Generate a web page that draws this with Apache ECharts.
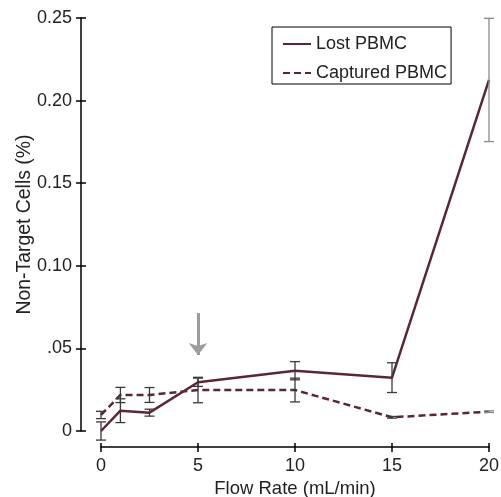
<!DOCTYPE html>
<html>
<head>
<meta charset="utf-8">
<script src="https://cdn.jsdelivr.net/npm/echarts@6/dist/echarts.min.js"></script>
<style>
html,body{margin:0;padding:0;background:#fff;}
#chart{width:501px;height:497px;}
</style>
</head>
<body>
<div id="chart"></div>
<script>
// ---- data ----
const flowRates = [0, 1, 2.5, 5, 10, 15, 20];
const lostPBMC = [0.000, 0.0123, 0.0111, 0.0295, 0.0365, 0.0323, 0.2125];
const lostPBMCErr = [0.0055, 0.0072, 0.0021, 0.0025, 0.0055, 0.0090, 0.0373];
const capturedPBMC = [0.0097, 0.0218, 0.0218, 0.0248, 0.0248, 0.0083, 0.0117];
const capturedPBMCErr = [0.0022, 0.0046, 0.0045, 0.0077, 0.0072, 0.0005, 0.0005];
const yTickLabels = ['0', '.05', '0.10', '0.15', '0.20', '0.25'];
const xTickLabels = ['0', '5', '10', '15', '20'];
const arrowAt = [5, 0.0714, 0.0460]; // x, start value, tip value

const FONT = '"Liberation Sans", Arial, sans-serif';
const lineColor = '#5a2834';

function pairs(xs, ys) { return xs.map((x, i) => [x, ys[i]]); }
function errData(xs, ys, es) { return xs.map((x, i) => [x, ys[i], es[i]]); }

function errRender(params, api) {
  const x = api.value(0), y = api.value(1), e = api.value(2);
  const top = api.coord([x, y + e]);
  const bot = api.coord([x, y - e]);
  const hw = 5;
  const col = x === 20 ? '#8a8a8a' : '#3a3a3a';
  const st = { stroke: col, lineWidth: 1.3 };
  return {
    type: 'group',
    children: [
      { type: 'line', shape: { x1: top[0], y1: top[1], x2: bot[0], y2: bot[1] }, style: st },
      { type: 'line', shape: { x1: top[0] - hw, y1: top[1], x2: top[0] + hw, y2: top[1] }, style: st },
      { type: 'line', shape: { x1: bot[0] - hw, y1: bot[1], x2: bot[0] + hw, y2: bot[1] }, style: st }
    ]
  };
}

const chart = echarts.init(document.getElementById('chart'), null, { renderer: 'canvas' });
const axisLineStyle = { color: '#000', width: 1.5 };
const labelStyle = { color: '#222', fontSize: 18, fontFamily: FONT };

chart.setOption({
  animation: false,
  backgroundColor: '#fff',
  textStyle: { fontFamily: FONT },
  grid: { left: 101, right: 12, top: 18, bottom: 66, containLabel: false, outerBoundsMode: 'none' },
  legend: {
    orient: 'vertical',
    left: 272, top: 27,
    padding: [8, 4, 2, 10],
    borderColor: '#000', borderWidth: 1,
    itemWidth: 28, itemHeight: 14, itemGap: 11,
    itemStyle: { color: 'transparent', borderWidth: 0, opacity: 0 },
    textStyle: { color: '#222', fontSize: 18, fontFamily: FONT, padding: [0, 0, 0, 0] },
    data: ['Lost PBMC', 'Captured PBMC']
  },
  xAxis: [{
    type: 'value', min: 0, max: 20, interval: 5, position: 'bottom', offset: 16,
    name: 'Flow Rate (mL/min)', nameLocation: 'middle', nameGap: 29,
    nameTextStyle: { color: '#222', fontSize: 18.5, fontFamily: FONT },
    axisLine: { show: true, onZero: false, lineStyle: axisLineStyle },
    axisTick: { show: true, inside: false, length: 5, lineStyle: { color: '#000', width: 1.5 } },
    axisLabel: { ...labelStyle, margin: 10, formatter: v => xTickLabels[Math.round(v / 5)] },
    splitLine: { show: false }
  }, {
    type: 'value', min: 0, max: 20, interval: 5, position: 'bottom', offset: 16,
    axisLine: { show: false, onZero: false },
    axisTick: { show: true, inside: true, length: 4, lineStyle: { color: '#000', width: 1.5 } },
    axisLabel: { show: false }, splitLine: { show: false }
  }],
  yAxis: [{
    type: 'value', min: 0, max: 0.25, interval: 0.05, position: 'left', offset: 20,
    name: 'Non-Target Cells (%)', nameLocation: 'middle', nameGap: 47, nameMoveOverlap: false,
    nameTextStyle: { color: '#222', fontSize: 19.4, fontFamily: FONT },
    axisLine: { show: true, onZero: false, lineStyle: axisLineStyle },
    axisTick: { show: true, inside: false, length: 5, lineStyle: { color: '#000', width: 1.5 } },
    axisLabel: { ...labelStyle, margin: 9, formatter: v => yTickLabels[Math.round(v / 0.05)] },
    splitLine: { show: false }
  }, {
    type: 'value', min: 0, max: 0.25, interval: 0.05, position: 'left', offset: 20,
    axisLine: { show: false, onZero: false },
    axisTick: { show: true, inside: true, length: 5, lineStyle: { color: '#000', width: 1.5 } },
    axisLabel: { show: false }, splitLine: { show: false }
  }],
  series: [
    {
      name: 'Lost PBMC', type: 'line', data: pairs(flowRates, lostPBMC),
      symbol: 'none', lineStyle: { color: lineColor, width: 2.5, type: 'solid' },
      itemStyle: { color: lineColor }, z: 3,
      markLine: {
        silent: true, animation: false,
        symbol: ['none', 'arrow'], symbolSize: [14, 12],
        lineStyle: { color: '#9c9c9c', width: 3, type: 'solid' },
        label: { show: false },
        data: [[{ coord: [arrowAt[0], arrowAt[1]] }, { coord: [arrowAt[0], arrowAt[2]] }]]
      }
    },
    {
      name: 'Captured PBMC', type: 'line', data: pairs(flowRates, capturedPBMC),
      symbol: 'none', lineStyle: { color: lineColor, width: 2.5, type: [7, 4] },
      itemStyle: { color: lineColor }, z: 3
    },
    {
      type: 'custom', renderItem: errRender, data: errData(flowRates, lostPBMC, lostPBMCErr),
      encode: { x: 0, y: 1 }, z: 5, clip: false
    },
    {
      type: 'custom', renderItem: errRender, data: errData(flowRates, capturedPBMC, capturedPBMCErr),
      encode: { x: 0, y: 1 }, z: 5, clip: false
    }
  ]
});
</script>
</body>
</html>
